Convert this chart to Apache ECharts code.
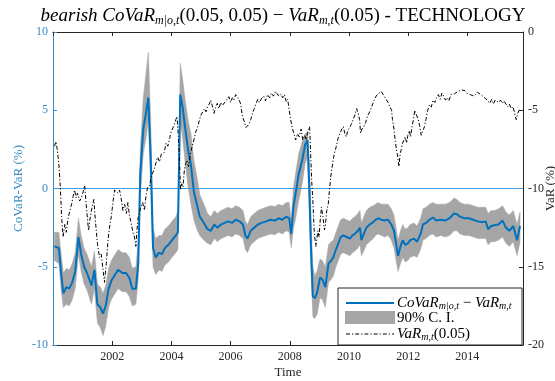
<!DOCTYPE html>
<html>
<head>
<meta charset="utf-8">
<script src="https://cdn.jsdelivr.net/npm/echarts@6/dist/echarts.min.js"></script>
<style>
  html, body { margin: 0; padding: 0; background: #ffffff; }
  #chart { width: 555px; height: 381px; }
</style>
</head>
<body>
<div id="chart"></div>
<script>
// Bearish CoVaR minus VaR for the technology sector, with its 90% band (left axis, %)
const covarTime = [
  2000.05, 2000.2, 2000.28, 2000.35, 2000.45, 2000.55, 2000.65, 2000.75, 2000.86, 2000.95,
  2001.05, 2001.15, 2001.3, 2001.4, 2001.5, 2001.6, 2001.69, 2001.78, 2001.88, 2001.97,
  2002.1, 2002.2, 2002.35, 2002.47, 2002.58, 2002.68, 2002.8, 2002.88, 2002.95, 2003.05,
  2003.14, 2003.22, 2003.3, 2003.38, 2003.47, 2003.58, 2003.68, 2003.78, 2003.9, 2004.02,
  2004.15, 2004.22, 2004.3, 2004.38, 2004.47, 2004.57, 2004.66, 2004.76, 2004.86, 2004.96,
  2005.1, 2005.22, 2005.33, 2005.45, 2005.55, 2005.68, 2005.8, 2005.92, 2006.05, 2006.17,
  2006.3, 2006.42, 2006.5, 2006.57, 2006.68, 2006.8, 2006.92, 2007.05, 2007.2, 2007.35,
  2007.5, 2007.62, 2007.75, 2007.88, 2007.98, 2008.05, 2008.12, 2008.2, 2008.3, 2008.42,
  2008.52, 2008.6, 2008.67, 2008.72, 2008.78, 2008.85, 2008.93, 2009.02, 2009.1, 2009.2,
  2009.31, 2009.4, 2009.47, 2009.56, 2009.64, 2009.72, 2009.81, 2009.92, 2010.03, 2010.12,
  2010.2, 2010.3, 2010.37, 2010.42, 2010.5, 2010.59, 2010.7, 2010.82, 2010.9, 2010.98,
  2011.1, 2011.2, 2011.32, 2011.43, 2011.52, 2011.6, 2011.66, 2011.74, 2011.82, 2011.9,
  2011.99, 2012.07, 2012.2, 2012.3, 2012.42, 2012.5, 2012.6, 2012.72, 2012.83, 2012.95,
  2013.1, 2013.25, 2013.4, 2013.55, 2013.65, 2013.75, 2013.9, 2014.05, 2014.2, 2014.35,
  2014.5, 2014.62, 2014.7, 2014.8, 2014.92, 2015.05, 2015.19, 2015.3, 2015.42, 2015.55,
  2015.68, 2015.78
];
const covarValue = [
  -3.7, -3.8, -5.5, -6.7, -6.3, -6.4, -6.0, -5.3, -3.1, -4.2,
  -5.0, -5.4, -6.2, -5.2, -7.4, -7.6, -8.0, -7.5, -6.4, -5.9,
  -5.5, -5.2, -5.4, -5.4, -5.7, -6.4, -6.4, -4.8, 1.0, 3.8,
  4.8, 5.8, 2.0, -3.8, -4.4, -4.1, -4.2, -3.8, -3.6, -3.3,
  -3.0, -2.8, 6.0, 5.2, 3.8, 2.4, 1.5, -0.2, -1.0, -1.8,
  -2.2, -2.6, -2.7, -2.3, -2.5, -2.3, -2.2, -2.1, -2.2, -2.0,
  -2.1, -2.3, -3.0, -3.2, -2.7, -2.5, -2.3, -2.2, -2.1, -2.0,
  -2.05, -1.9, -2.0, -1.8, -1.9, -2.9, -1.2, -0.3, 0.9, 1.8,
  2.8, 3.1, -0.5, -4.0, -6.9, -7.0, -6.6, -5.7, -5.8, -6.3,
  -4.8, -4.6, -4.4, -3.9, -3.5, -3.1, -3.0, -3.1, -3.2, -3.0,
  -2.9, -2.7, -2.5, -3.3, -2.9, -2.5, -2.3, -2.15, -2.0, -1.9,
  -2.0, -2.05, -2.0, -2.3, -2.7, -3.6, -4.3, -3.7, -3.3, -3.6,
  -3.5, -3.3, -3.2, -3.4, -2.9, -2.3, -2.2, -2.0, -1.85, -2.05,
  -2.0, -2.05, -1.9, -1.6, -1.65, -1.8, -1.9, -1.9, -2.0, -2.1,
  -2.15, -2.1, -2.6, -2.4, -2.35, -2.3, -2.05, -2.5, -2.7, -2.4,
  -3.3, -2.4
];
const ciLower = [
  -4.6, -4.8, -6.6, -7.6, -7.4, -7.5, -7.1, -6.4, -4.2, -5.3,
  -6.1, -6.5, -7.4, -6.4, -8.6, -8.9, -9.4, -8.8, -7.6, -7.1,
  -6.7, -6.4, -6.6, -6.6, -6.9, -7.5, -7.4, -5.8, -0.5, 2.2,
  3.2, 4.3, 0.2, -5.0, -5.5, -5.2, -5.3, -4.9, -4.7, -4.4,
  -4.1, -3.9, 4.3, 3.2, 1.6, 0.0, -1.0, -2.0, -2.6, -3.0,
  -3.3, -3.5, -3.6, -3.2, -3.4, -3.2, -3.1, -3.0, -3.1, -2.9,
  -3.0, -3.2, -3.9, -4.1, -3.6, -3.4, -3.2, -3.1, -3.0, -2.9,
  -2.95, -2.8, -2.9, -2.7, -2.8, -3.8, -2.6, -1.9, -0.8, 0.3,
  1.6, 2.0, -2.5, -5.5, -8.2, -8.3, -8.0, -7.0, -7.1, -7.6,
  -6.0, -5.8, -5.6, -5.0, -4.6, -4.2, -4.1, -4.2, -4.3, -4.1,
  -4.0, -3.8, -3.6, -4.3, -4.0, -3.6, -3.4, -3.2, -3.0, -2.9,
  -3.0, -3.1, -3.0, -3.3, -3.8, -4.7, -5.3, -4.8, -4.4, -4.7,
  -4.6, -4.4, -4.3, -4.4, -3.9, -3.3, -3.2, -3.0, -2.9, -3.1,
  -3.0, -3.1, -3.0, -2.7, -2.7, -2.9, -3.0, -3.0, -3.1, -3.2,
  -3.2, -3.2, -3.6, -3.4, -3.4, -3.3, -3.1, -3.5, -3.7, -3.4,
  -4.3, -3.4
];
const ciUpper = [
  -2.8, -2.8, -4.3, -5.4, -5.1, -5.2, -4.8, -4.1, -1.9, -3.0,
  -3.8, -4.2, -5.0, -4.0, -6.1, -6.3, -6.7, -6.2, -5.1, -4.6,
  -4.2, -3.9, -4.1, -4.1, -4.4, -5.1, -5.0, -3.4, 2.5, 5.8,
  7.3, 8.7, 4.5, -2.5, -3.2, -3.0, -3.0, -2.6, -2.4, -2.1,
  -1.8, -1.4, 8.0, 7.0, 5.6, 4.3, 3.5, 1.8, 0.8, -0.4,
  -1.0, -1.6, -1.8, -1.4, -1.6, -1.4, -1.3, -1.2, -1.3, -1.1,
  -1.2, -1.4, -2.1, -2.3, -1.8, -1.6, -1.4, -1.3, -1.2, -1.1,
  -1.15, -1.0, -1.1, -0.9, -0.9, -2.0, 0.0, 1.0, 2.2, 3.0,
  3.5, 3.6, 1.5, -2.0, -5.0, -5.6, -5.2, -4.5, -4.6, -5.0,
  -3.6, -3.4, -3.3, -2.8, -2.4, -2.0, -1.9, -2.0, -2.1, -1.9,
  -1.8, -1.6, -1.4, -2.2, -1.8, -1.4, -1.2, -1.1, -1.0, -0.9,
  -1.0, -1.0, -1.0, -1.3, -1.7, -2.6, -3.3, -2.7, -2.3, -2.6,
  -2.5, -2.3, -2.2, -2.4, -1.9, -1.3, -1.2, -1.0, -0.9, -1.0,
  -1.0, -1.0, -0.9, -0.6, -0.7, -0.9, -1.0, -1.0, -1.1, -1.2,
  -1.2, -1.2, -1.6, -1.4, -1.4, -1.3, -1.1, -1.5, -1.7, -1.4,
  -2.3, -1.5
];

// Market VaR at 5% (right axis, %)
const varTime = [
  2000.05, 2000.1, 2000.15, 2000.2, 2000.25, 2000.29, 2000.34, 2000.4, 2000.45, 2000.5,
  2000.57, 2000.63, 2000.68, 2000.73, 2000.78, 2000.83, 2000.9, 2000.96, 2001.02, 2001.07,
  2001.12, 2001.2, 2001.26, 2001.32, 2001.38, 2001.43, 2001.5, 2001.57, 2001.63, 2001.69,
  2001.74, 2001.8, 2001.85, 2001.9, 2001.97, 2002.03, 2002.08, 2002.14, 2002.2, 2002.25,
  2002.3, 2002.36, 2002.42, 2002.48, 2002.53, 2002.58, 2002.64, 2002.7, 2002.75, 2002.8,
  2002.84, 2002.88, 2002.95, 2003.03, 2003.09, 2003.14, 2003.2, 2003.27, 2003.32, 2003.37,
  2003.43, 2003.5, 2003.54, 2003.6, 2003.66, 2003.72, 2003.76, 2003.82, 2003.88, 2003.94,
  2003.99, 2004.04, 2004.1, 2004.15, 2004.19, 2004.23, 2004.27, 2004.31, 2004.35, 2004.39,
  2004.44, 2004.48, 2004.53, 2004.58, 2004.64, 2004.7, 2004.76, 2004.82, 2004.89, 2004.95,
  2005.0, 2005.06, 2005.12, 2005.17, 2005.22, 2005.28, 2005.33, 2005.38, 2005.44, 2005.5,
  2005.55, 2005.6, 2005.67, 2005.72, 2005.78, 2005.84, 2005.9, 2005.94, 2006.0, 2006.06,
  2006.11, 2006.17, 2006.22, 2006.28, 2006.34, 2006.4, 2006.46, 2006.52, 2006.57, 2006.62,
  2006.68, 2006.74, 2006.8, 2006.86, 2006.92, 2006.98, 2007.05, 2007.12, 2007.18, 2007.25,
  2007.32, 2007.38, 2007.45, 2007.52, 2007.57, 2007.63, 2007.7, 2007.76, 2007.82, 2007.88,
  2007.93, 2007.98, 2008.03, 2008.08, 2008.14, 2008.2, 2008.26, 2008.32, 2008.38, 2008.44,
  2008.5, 2008.56, 2008.62, 2008.67, 2008.7, 2008.74, 2008.78, 2008.83, 2008.88, 2008.91,
  2008.95, 2008.99, 2009.03, 2009.07, 2009.12, 2009.17, 2009.2, 2009.25, 2009.3, 2009.35,
  2009.4, 2009.45, 2009.5, 2009.57, 2009.63, 2009.7, 2009.76, 2009.81, 2009.86, 2009.91,
  2009.96, 2010.02, 2010.08, 2010.14, 2010.2, 2010.26, 2010.31, 2010.36, 2010.39, 2010.44,
  2010.5, 2010.56, 2010.62, 2010.7, 2010.77, 2010.84, 2010.92, 2010.98, 2011.03, 2011.09,
  2011.15, 2011.2, 2011.26, 2011.32, 2011.38, 2011.44, 2011.47, 2011.52, 2011.56, 2011.61,
  2011.65, 2011.69, 2011.73, 2011.77, 2011.81, 2011.86, 2011.9, 2011.95, 2011.99, 2012.04,
  2012.08, 2012.13, 2012.18, 2012.22, 2012.28, 2012.34, 2012.39, 2012.44, 2012.5, 2012.55,
  2012.6, 2012.66, 2012.72, 2012.78, 2012.84, 2012.9, 2012.96, 2013.02, 2013.08, 2013.14,
  2013.2, 2013.26, 2013.32, 2013.38, 2013.44, 2013.5, 2013.56, 2013.62, 2013.68, 2013.74,
  2013.8, 2013.86, 2013.92, 2013.98, 2014.04, 2014.1, 2014.16, 2014.22, 2014.28, 2014.34,
  2014.4, 2014.46, 2014.52, 2014.58, 2014.64, 2014.7, 2014.76, 2014.82, 2014.88, 2014.94,
  2015.0, 2015.06, 2015.12, 2015.18, 2015.24, 2015.3, 2015.36, 2015.42, 2015.48, 2015.54,
  2015.6, 2015.65, 2015.7, 2015.75, 2015.78
];
const varValue = [
  -7.3, -7.0, -7.6, -8.5, -10.0, -11.8, -13.1, -12.3, -12.8, -12.0,
  -11.4, -11.0, -10.5, -10.1, -10.6, -10.3, -10.8, -10.6, -10.2, -9.8,
  -11.0, -12.7, -11.8, -11.2, -10.7, -12.0, -13.5, -14.4, -14.2, -15.2,
  -16.0, -14.8, -13.5, -12.6, -11.8, -10.8, -10.1, -10.0, -10.3, -10.1,
  -10.6, -11.4, -11.0, -11.6, -10.9, -11.7, -12.2, -12.8, -13.1, -13.7,
  -12.6, -11.8, -11.3, -10.9, -11.4, -10.5, -9.9, -9.8, -9.2, -9.0,
  -8.7, -8.2, -8.0, -8.3, -7.8, -7.9, -7.7, -7.1, -7.3, -6.8,
  -6.4, -6.3, -5.9, -5.6, -5.4, -6.5, -8.0, -10.1, -9.7, -9.9,
  -8.8, -8.4, -8.2, -8.6, -7.8, -7.3, -6.9, -6.4, -6.05, -5.6,
  -5.3, -5.2, -4.9, -5.1, -4.77, -4.6, -4.35, -4.7, -5.2, -4.8,
  -4.56, -4.9, -4.5, -4.7, -4.77, -4.4, -4.5, -4.13, -4.5, -4.2,
  -4.35, -4.0, -3.95, -4.3, -4.6, -5.4, -5.7, -6.1, -6.15, -5.9,
  -5.6, -5.2, -4.9, -4.56, -4.3, -4.5, -4.24, -4.1, -4.4, -4.0,
  -4.2, -3.9, -4.1, -3.8, -3.8, -4.1, -3.95, -4.2, -4.0, -4.45,
  -4.3, -5.0, -5.6, -6.1, -6.0, -6.9, -6.5, -6.7, -6.2, -6.9,
  -6.6, -6.9, -6.3, -6.05, -7.5, -9.5, -10.8, -12.9, -13.7, -13.8,
  -12.7, -13.1, -12.0, -11.2, -11.8, -12.65, -12.4, -11.4, -11.0, -9.9,
  -9.0, -8.4, -7.8, -7.33, -6.8, -6.47, -6.2, -6.05, -6.5, -6.7,
  -6.3, -6.26, -5.9, -5.6, -5.3, -4.9, -5.2, -5.6, -6.47, -6.2,
  -6.05, -5.8, -5.4, -5.1, -4.77, -4.4, -4.1, -3.95, -3.9, -3.8,
  -3.85, -4.13, -4.2, -4.5, -4.77, -5.0, -5.6, -6.2, -6.9, -7.6,
  -8.0, -8.6, -7.75, -7.5, -7.1, -6.9, -6.7, -7.1, -6.6, -6.3,
  -6.7, -6.05, -5.6, -5.0, -5.3, -5.6, -6.0, -6.6, -6.3, -6.05,
  -5.6, -5.0, -4.66, -4.8, -4.35, -4.5, -4.2, -4.0, -4.3, -3.9,
  -4.1, -4.35, -4.2, -4.4, -4.0, -4.1, -3.95, -4.0, -3.8, -3.9,
  -3.7, -3.6, -3.75, -3.9, -3.8, -4.0, -3.9, -4.1, -4.0, -3.85,
  -3.8, -4.0, -3.9, -4.2, -4.13, -4.4, -4.56, -4.3, -4.6, -4.35,
  -4.3, -4.5, -4.35, -4.56, -4.4, -4.6, -4.77, -4.6, -4.9, -4.77,
  -5.2, -5.6, -5.2, -5.0, -4.9
];

// Axis ranges and ticks
const timeRange = [2000, 2015.88];
const timeStep = 2;
const leftRange = [-10, 10];
const rightRange = [-20, 0];
const yStep = 5;
const zeroLevel = 0;

const SERIF = '"Liberation Serif", "Times New Roman", serif';
const LINE_BLUE = '#0072BD';
const AXIS_BLUE = '#3a8cc6';
const ZERO_BLUE = '#3b9be0';
const BAND_GREY = '#a6a6a6';
const DARK = '#262626';
const DASH_DOT = [4, 2, 1.2, 2];

const bandData = covarTime.map((t, i) => [t, ciLower[i], ciUpper[i]]);
const covarPts = covarTime.map((t, i) => [t, covarValue[i]]);
const varPts = varTime.map((t, i) => [t, varValue[i]]);
const zeroPts = timeRange.map(t => [t, zeroLevel]);

const tickFont = { fontFamily: SERIF, fontSize: 12 };

// Confidence band: one filled polygon, upper edge forward then lower edge back
function renderBand(params, api) {
  if (params.dataIndex !== 0) return;
  const upper = bandData.map(d => api.coord([d[0], d[2]]));
  const lower = bandData.map(d => api.coord([d[0], d[1]])).reverse();
  return {
    type: 'polygon',
    shape: { points: upper.concat(lower) },
    style: { fill: BAND_GREY, stroke: BAND_GREY, lineWidth: 0.5 },
    silent: true
  };
}

const chart = echarts.init(document.getElementById('chart'), null, { renderer: 'canvas' });

const mathRich = {
  i: { fontFamily: SERIF, fontStyle: 'italic', fontSize: 19, fill: '#000', lineHeight: 22, verticalAlign: 'middle' },
  n: { fontFamily: SERIF, fontSize: 19, fill: '#000', lineHeight: 22, verticalAlign: 'middle' },
  s: { fontFamily: SERIF, fontStyle: 'italic', fontSize: 12, fill: '#000', lineHeight: 9, verticalAlign: 'bottom' }
};
const legendRich = {
  i: { fontFamily: SERIF, fontStyle: 'italic', fontSize: 15, fill: '#000', lineHeight: 16, verticalAlign: 'middle' },
  n: { fontFamily: SERIF, fontSize: 15, fill: '#000', lineHeight: 16, verticalAlign: 'middle' },
  s: { fontFamily: SERIF, fontStyle: 'italic', fontSize: 10, fill: '#000', lineHeight: 7, verticalAlign: 'bottom' }
};

const option = {
  backgroundColor: '#ffffff',
  animation: false,
  grid: { left: 53, right: 32, top: 32, bottom: 36, containLabel: false, outerBoundsMode: 'none' },
  xAxis: [
    {
      type: 'value', min: timeRange[0], max: timeRange[1], interval: timeStep,
      name: 'Time', nameLocation: 'middle', nameGap: 21, nameMoveOverlap: false,
      nameTextStyle: { fontFamily: SERIF, fontSize: 13, color: DARK },
      axisLine: { show: true, onZero: false, lineStyle: { color: DARK, width: 1 } },
      axisTick: { show: true, inside: true, length: 4, lineStyle: { color: DARK } },
      axisLabel: {
        ...tickFont, color: DARK, margin: 6, showMinLabel: false, showMaxLabel: false,
        formatter: v => (v > timeRange[0] && v % timeStep === 0 ? String(v) : '')
      },
      splitLine: { show: false }
    },
    {
      type: 'value', position: 'top', min: timeRange[0], max: timeRange[1], interval: timeStep,
      axisLine: { show: true, onZero: false, lineStyle: { color: DARK, width: 1 } },
      axisTick: { show: true, inside: true, length: 4, lineStyle: { color: DARK } },
      axisLabel: { show: false },
      splitLine: { show: false }
    }
  ],
  yAxis: [
    {
      type: 'value', position: 'left', min: leftRange[0], max: leftRange[1], interval: yStep,
      name: 'CoVaR-VaR (%)', nameLocation: 'middle', nameGap: 28, nameRotate: 90, nameMoveOverlap: false,
      nameTextStyle: { fontFamily: SERIF, fontSize: 13, color: AXIS_BLUE },
      axisLine: { show: true, onZero: false, lineStyle: { color: AXIS_BLUE, width: 1 } },
      axisTick: { show: true, inside: true, length: 4, lineStyle: { color: AXIS_BLUE } },
      axisLabel: { ...tickFont, color: AXIS_BLUE, margin: 5 },
      splitLine: { show: false }
    },
    {
      type: 'value', position: 'right', min: rightRange[0], max: rightRange[1], interval: yStep,
      name: 'VaR (%)', nameLocation: 'middle', nameGap: 21, nameRotate: 90, nameMoveOverlap: false,
      nameTextStyle: { fontFamily: SERIF, fontSize: 13, color: DARK },
      axisLine: { show: true, onZero: false, lineStyle: { color: DARK, width: 1 } },
      axisTick: { show: true, inside: true, length: 4, lineStyle: { color: DARK } },
      axisLabel: { ...tickFont, color: DARK, margin: 5 },
      splitLine: { show: false }
    }
  ],
  series: [
    {
      name: '90% C. I.', type: 'custom', data: bandData, xAxisIndex: 0, yAxisIndex: 0,
      encode: { x: 0, y: [1, 2] }, renderItem: renderBand, silent: true, z: 1
    },
    {
      name: 'zero', type: 'line', data: zeroPts, xAxisIndex: 0, yAxisIndex: 0,
      symbol: 'none', silent: true, lineStyle: { color: ZERO_BLUE, width: 1 }, z: 2
    },
    {
      name: 'CoVaR-VaR', type: 'line', data: covarPts, xAxisIndex: 0, yAxisIndex: 0,
      symbol: 'none', lineStyle: { color: LINE_BLUE, width: 2 }, z: 3
    },
    {
      name: 'VaR', type: 'line', data: varPts, xAxisIndex: 0, yAxisIndex: 1,
      symbol: 'none', lineStyle: { color: '#000', width: 1, type: DASH_DOT }, z: 4
    }
  ],
  graphic: [
    {
      type: 'text', x: 283, y: 5, z: 10,
      style: {
        text: '{i|bearish CoVaR}{s|m|o,t}{n|(0.05, 0.05) − }{i|VaR}{s|m,t}{n|(0.05) - TECHNOLOGY}',
        rich: mathRich, align: 'center', verticalAlign: 'top'
      }
    },
    {
      type: 'rect', z: 10,
      shape: { x: 338, y: 288, width: 184, height: 57 },
      style: { fill: '#ffffff', stroke: DARK, lineWidth: 1 }
    },
    {
      type: 'line', z: 11,
      shape: { x1: 346, y1: 303, x2: 394, y2: 303 },
      style: { stroke: LINE_BLUE, lineWidth: 2 }
    },
    {
      type: 'rect', z: 11,
      shape: { x: 345, y: 311, width: 50, height: 13 },
      style: { fill: BAND_GREY }
    },
    {
      type: 'line', z: 11,
      shape: { x1: 346, y1: 334, x2: 394, y2: 334 },
      style: { stroke: '#000', lineWidth: 1, lineDash: DASH_DOT }
    },
    {
      type: 'text', x: 397, y: 295, z: 11,
      style: { text: '{i|CoVaR}{s|m|o,t}{n| − }{i|VaR}{s|m,t}', rich: legendRich, align: 'left', verticalAlign: 'top' }
    },
    {
      type: 'text', x: 397, y: 310, z: 11,
      style: { text: '{n|90% C. I.}', rich: legendRich, align: 'left', verticalAlign: 'top' }
    },
    {
      type: 'text', x: 397, y: 326, z: 11,
      style: { text: '{i|VaR}{s|m,t}{n|(0.05)}', rich: legendRich, align: 'left', verticalAlign: 'top' }
    }
  ]
};

chart.setOption(option);
</script>
</body>
</html>
